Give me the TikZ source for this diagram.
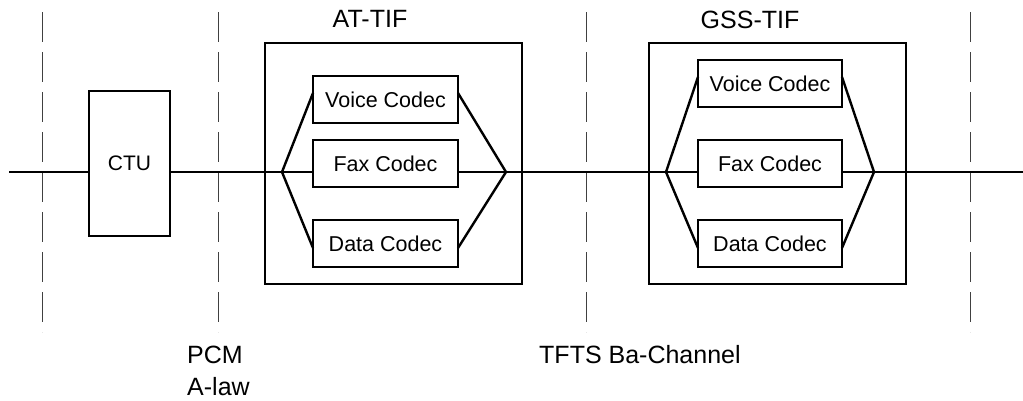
\documentclass[tikz,border=0pt]{standalone}
\usepackage{fontspec}
\setmainfont{Liberation Sans}
\begin{document}
\begin{tikzpicture}[x=1pt,y=-1pt,
  box/.style={draw,line width=2.4pt,inner sep=0pt,outer sep=0pt},
  codec/.style={box,minimum width=145pt,minimum height=47pt,font=\fontsize{21.5}{24}\selectfont},
  tif/.style={box,minimum width=257pt,minimum height=241pt},
  wire/.style={line width=2.4pt},
  sep/.style={draw=black!75,line width=1pt,dash pattern=on 30pt off 10pt},
  lbl/.style={font=\fontsize{25}{28}\selectfont,inner sep=0pt}]
\useasboundingbox (0,0) rectangle (1023,400);
% separators
\foreach \n/\x in {s1/42,s2/218,s3/586,s4/970}{
  \coordinate (\n t) at (\x,12);
  \coordinate (\n b) at (\x,332);
  \draw[sep] (\n t) -- (\n b);
}
% boxes
\node[box,minimum width=81pt,minimum height=145pt,font=\fontsize{21}{24}\selectfont] (ctu) at (129.5,163.5) {CTU};
\node[tif] (at) at (393.5,163.5) {};
\node[tif] (gss) at (777.5,163.5) {};
\node[codec] (av) at (385.5,99.5) {Voice Codec};
\node[codec] (af) at (385.5,163.5) {Fax Codec};
\node[codec] (ad) at (385.5,243.5) {Data Codec};
\node[codec,minimum width=144pt] (gv) at (770,83.5) {Voice Codec};
\node[codec,minimum width=144pt] (gf) at (770,163.5) {Fax Codec};
\node[codec,minimum width=144pt] (gd) at (770,243.5) {Data Codec};
% labels
\node[lbl,anchor=base] (atl) at (370,27) {AT-TIF};
\node[lbl,anchor=base] (gssl) at (750,28) {GSS-TIF};
\node[lbl,anchor=base west] (pcm) at (187,363) {PCM};
\node[lbl,anchor=base west] (alaw) at (187,395) {A-law};
\node[lbl,anchor=base west] (tfts) at (539,363) {TFTS Ba-Channel};
% fan points
\coordinate (start) at (9,172);
\coordinate (L1) at (282,172);
\coordinate (R1) at (506,172);
\coordinate (L2) at (666,172);
\coordinate (R2) at (874,172);
\coordinate (fin) at (1023,172);
% wires
\draw[wire] (start) -- (start -| ctu.west);
\draw[wire] (ctu.east |- start) -- (L1);
\draw[wire] (L1) -- (af.west |- L1);
\draw[wire] (L1) -- (av.west |- 0,93);
\draw[wire] (L1) -- (ad.west |- 0,248);
\draw[wire] (af.east |- R1) -- (R1);
\draw[wire] (av.east |- 0,93) -- (R1);
\draw[wire] (ad.east |- 0,248) -- (R1);
\draw[wire] (R1) -- (L2);
\draw[wire] (L2) -- (gf.west |- L2);
\draw[wire] (L2) -- (gv.west |- 0,77);
\draw[wire] (L2) -- (gd.west |- 0,248);
\draw[wire] (gf.east |- R2) -- (R2);
\draw[wire] (gv.east |- 0,77) -- (R2);
\draw[wire] (gd.east |- 0,248) -- (R2);
\draw[wire] (R2) -- (fin);
\end{tikzpicture}
\end{document}
